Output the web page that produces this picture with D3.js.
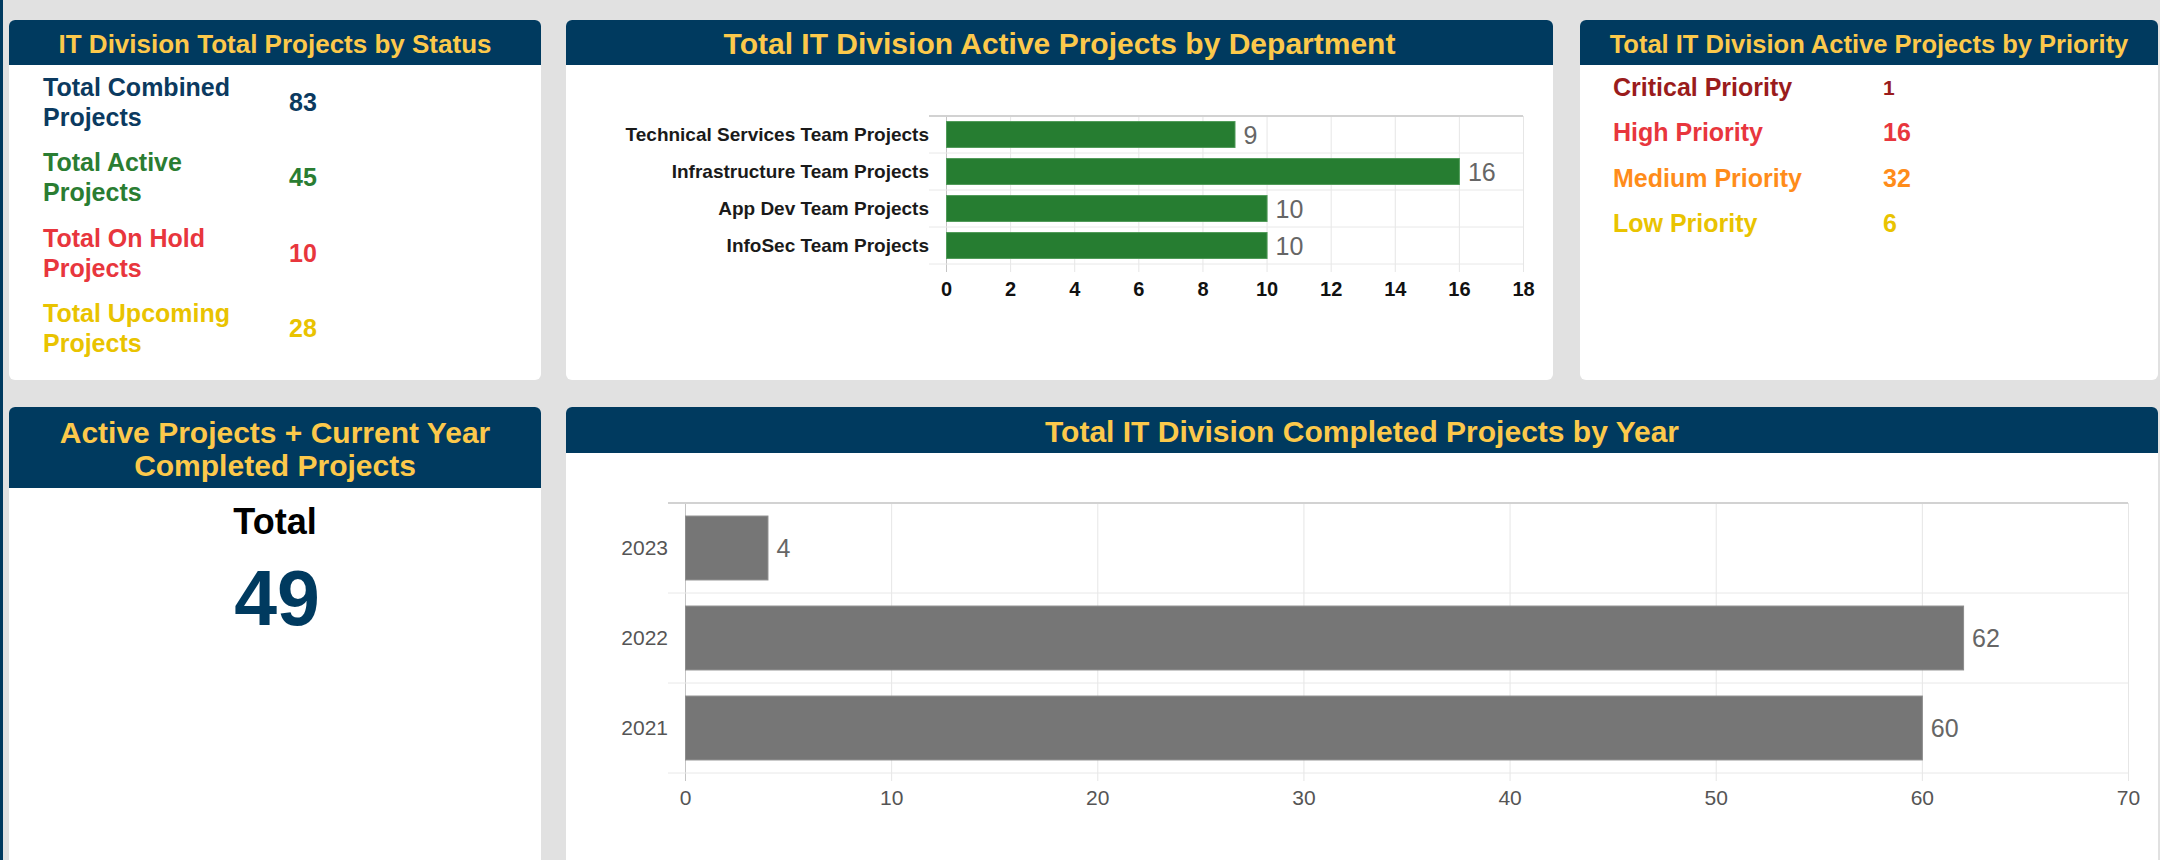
<!DOCTYPE html>
<html>
<head>
<meta charset="utf-8">
<script src="https://cdn.jsdelivr.net/npm/d3@7"></script>
<style>
  body { margin: 0; background: #e1e1e1; overflow: hidden; }
  svg { display: block; font-family: "Liberation Sans", Arial, sans-serif; }
</style>
</head>
<body>
<script>
// --- data ---
const statusLabels = [['Total Combined', 'Projects'], ['Total Active', 'Projects'], ['Total On Hold', 'Projects'], ['Total Upcoming', 'Projects']];
const statusValues = [83, 45, 10, 28];
const statusColors = ['#0b3a60', '#2a7d32', '#e8363d', '#e9c300'];

const priorityLabels = ['Critical Priority', 'High Priority', 'Medium Priority', 'Low Priority'];
const priorityValues = [1, 16, 32, 6];
const priorityColors = ['#9a1c1c', '#e8363d', '#ff8c1a', '#e9c300'];

const deptCategories = ['Technical Services Team Projects', 'Infrastructure Team Projects', 'App Dev Team Projects', 'InfoSec Team Projects'];
const deptValues = [9, 16, 10, 10];
const deptTicks = [0, 2, 4, 6, 8, 10, 12, 14, 16, 18];

const years = ['2023', '2022', '2021'];
const yearValues = [4, 62, 60];
const yearTicks = [0, 10, 20, 30, 40, 50, 60, 70];

const combinedTotal = 49;

const navy = '#003a5f';
const gold = '#fcc94b';

const svg = d3.select('body').append('svg')
    .attr('width', 2160)
    .attr('height', 860);

// left page border
svg.append('rect').attr('x', 0).attr('y', 0).attr('width', 3).attr('height', 860).attr('fill', navy);

function panel(x, y, w, h, headH, lines, size){
    const g = svg.append('g').attr('transform', `translate(${x},${y})`);
    g.append('rect').attr('width', w).attr('height', h).attr('rx', 6).attr('fill', '#fff');
    g.append('rect').attr('width', w).attr('height', headH).attr('rx', 6).attr('fill', navy);
    g.append('rect').attr('y', 6).attr('width', w).attr('height', headH - 6).attr('fill', navy);
    const lh = size * 1.1;
    const y0 = headH / 2 - (lines.length - 1) * lh / 2 + 1;
    g.selectAll('text.title').data(lines).enter()
        .append('text')
        .attr('class', 'title')
        .attr('x', w / 2)
        .attr('y', (d, i) => y0 + i * lh)
        .attr('text-anchor', 'middle')
        .attr('dominant-baseline', 'central')
        .attr('font-size', size)
        .attr('font-weight', 'bold')
        .attr('fill', gold)
        .text(d => d);
    return g;
}

// --- panel 1: status ---
const p1 = panel(9, 20, 532, 360, 45, ['IT Division Total Projects by Status'], 26);
const rows1 = p1.selectAll('g.row').data(statusValues).enter()
    .append('g')
    .attr('transform', (d, i) => `translate(0,${67 + i * 75.3})`);
rows1.each(function(d, i){
    const r = d3.select(this);
    statusLabels[i].forEach((t, j) => {
        r.append('text').attr('x', 34).attr('y', j * 30)
            .attr('dominant-baseline', 'central')
            .attr('font-size', 25).attr('font-weight', 'bold')
            .attr('fill', statusColors[i]).text(t);
    });
    r.append('text').attr('x', 280).attr('y', 15)
        .attr('dominant-baseline', 'central')
        .attr('font-size', 25).attr('font-weight', 'bold')
        .attr('fill', statusColors[i]).text(d);
});

// --- panel 3: priority ---
const p3 = panel(1580, 20, 578, 360, 45, ['Total IT Division Active Projects by Priority'], 25.5);
const rows3 = p3.selectAll('g.row').data(priorityValues).enter()
    .append('g')
    .attr('transform', (d, i) => `translate(0,${67 + i * 45.3})`);
rows3.append('text').attr('x', 33)
    .attr('dominant-baseline', 'central')
    .attr('font-size', 25).attr('font-weight', 'bold')
    .attr('fill', (d, i) => priorityColors[i])
    .text((d, i) => priorityLabels[i]);
rows3.append('text').attr('x', 303)
    .attr('dominant-baseline', 'central')
    .attr('font-size', (d, i) => i === 0 ? 21 : 25).attr('font-weight', 'bold')
    .attr('fill', (d, i) => priorityColors[i])
    .text(d => d);

// --- panel 4: total ---
const p4 = panel(9, 407, 532, 470, 81, ['Active Projects + Current Year', 'Completed Projects'], 30);
p4.append('text').attr('x', 266).attr('y', 114)
    .attr('text-anchor', 'middle').attr('dominant-baseline', 'central')
    .attr('font-size', 36).attr('font-weight', 'bold').attr('fill', '#000')
    .text('Total');
p4.append('text').attr('x', 268).attr('y', 191)
    .attr('text-anchor', 'middle').attr('dominant-baseline', 'central')
    .attr('font-size', 77).attr('font-weight', 'bold').attr('fill', navy)
    .text(combinedTotal);

// --- horizontal bar chart helper ---
function barChart(cfg){
    const g = svg.append('g').attr('transform', `translate(${cfg.left},${cfg.top})`);
    const x = d3.scaleLinear().domain(cfg.domain).range([0, cfg.width]);
    const y = d3.scaleBand().domain(cfg.categories).range([0, cfg.height])
        .paddingInner(cfg.padIn).paddingOuter(cfg.padIn / 2);
    const off = y.step() * y.paddingInner() / 2;

    // vertical grid + x labels
    const xa = g.append('g')
        .call(d3.axisBottom(x).tickValues(cfg.ticks).tickSize(cfg.height + 8).tickPadding(cfg.xPad));
    xa.select('.domain').remove();
    xa.selectAll('line').attr('stroke', (d, i) => i === 0 ? '#c4c4c4' : '#e6e6e6');
    xa.selectAll('text')
        .attr('font-family', '"Liberation Sans", Arial, sans-serif')
        .attr('font-size', cfg.xSize).attr('font-weight', cfg.xWeight).attr('fill', cfg.xColor);

    // horizontal grid at band edges
    const edges = cfg.categories.map(c => y(c) - off).concat([cfg.height]);
    g.selectAll('line.hgrid').data(edges).enter()
        .append('line')
        .attr('x1', -17).attr('x2', cfg.width)
        .attr('y1', d => d).attr('y2', d => d)
        .attr('stroke', (d, i) => i === 0 ? '#d2d2d2' : '#e8e8e8')
        .attr('stroke-width', (d, i) => i === 0 ? 2 : 1);

    // y labels
    const ya = g.append('g').call(d3.axisLeft(y).tickSize(0).tickPadding(17));
    ya.select('.domain').remove();
    ya.selectAll('text')
        .attr('font-family', '"Liberation Sans", Arial, sans-serif')
        .attr('font-size', cfg.ySize).attr('font-weight', cfg.yWeight).attr('fill', cfg.yColor);

    // bars
    g.selectAll('rect.bar').data(cfg.values).enter()
        .append('rect')
        .attr('x', x(0) + 0.5)
        .attr('y', (d, i) => y(cfg.categories[i]))
        .attr('width', d => x(d) - x(0))
        .attr('height', y.bandwidth())
        .attr('fill', cfg.fill)
        .attr('stroke', cfg.stroke);

    // value labels
    g.selectAll('text.val').data(cfg.values).enter()
        .append('text')
        .attr('x', d => x(d) + 9)
        .attr('y', (d, i) => y(cfg.categories[i]) + y.bandwidth() / 2)
        .attr('dominant-baseline', 'central')
        .attr('font-size', 25)
        .attr('fill', '#666')
        .text(d => d);
}

// --- panel 2: department ---
panel(566, 20, 987, 360, 45, ['Total IT Division Active Projects by Department'], 30);
barChart({
    left: 946, top: 116, width: 577, height: 148,
    domain: [0, 18], ticks: deptTicks, categories: deptCategories, values: deptValues,
    padIn: 0.3, xPad: 10, xSize: 20, xWeight: 'bold', xColor: '#111',
    ySize: 19, yWeight: 'bold', yColor: '#1a1a1a',
    fill: '#267d31', stroke: '#4f9a58'
});

// --- panel 5: completed by year ---
panel(566, 407, 1592, 470, 46, ['Total IT Division Completed Projects by Year'], 30);
barChart({
    left: 685, top: 503, width: 1443, height: 270,
    domain: [0, 70], ticks: yearTicks, categories: years, values: yearValues,
    padIn: 0.29, xPad: 9, xSize: 21, xWeight: 'normal', xColor: '#555',
    ySize: 21, yWeight: 'normal', yColor: '#555',
    fill: '#767676', stroke: '#8c8c8c'
});
</script>
</body>
</html>
